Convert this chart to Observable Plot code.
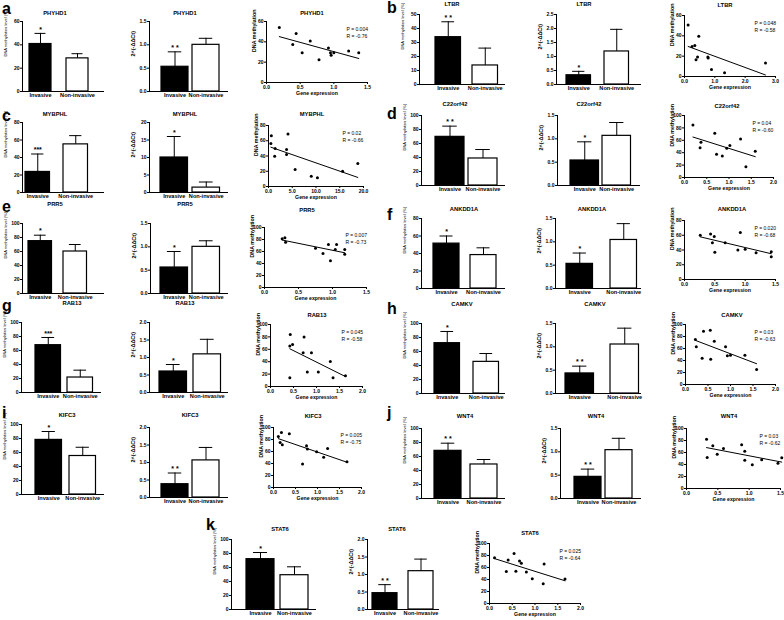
<!DOCTYPE html>
<html><head><meta charset="utf-8">
<script src="https://cdn.jsdelivr.net/npm/d3@7"></script>
<script src="https://cdn.jsdelivr.net/npm/@observablehq/plot@0.6"></script>
<style>
body{margin:0;background:#fff;}
#fig{position:relative;width:784px;height:620px;overflow:hidden;background:#fff;}
#fig svg{position:absolute;overflow:visible;}
</style></head><body><div id="fig"></div>
<script>
// ---------------- data ----------------
const genes = ["PHYHD1","LTBR","MYBPHL","C22orf42","PRR5","ANKDD1A","RAB13","CAMKV","KIFC3","WNT4","STAT6"];
const panelLetters = ["a","b","c","d","e","f","g","h","i","j","k"];
const groups = ["Invasive","Non-invasive"];

// DNA methylation level (%) bar charts: [Invasive, Non-invasive]
const methMean = [[40.7,28.4],[33.8,13.6],[23.5,55],[69.5,38.6],[74.8,60],[51.3,38.2],[67.6,21.4],[71.9,45.2],[78,55],[68.1,48.6],[71.9,49]];
const methErr  = [[49.8,32.4],[44.8,26],[44,65],[84.8,51.4],[83.3,70],[60,46.5],[78.6,31.9],[88.6,57.1],[90,67.5],[79,55.7],[81.4,61]];
const methStars = ["*","* *","***","* *","*","*","***","*","*","* *","*"];
const methMax  = [60,50,80,100,100,80,100,100,100,100,100];
const methStep = [20,10,20,20,20,20,20,20,20,20,20];

// 2^(-ΔΔCt) bar charts
const exprMean = [[0.53,1.0],[0.33,1.18],[10,1.4],[0.536,1.064],[0.557,1.0],[0.528,1.04],[0.6,1.09],[0.43,1.05],[0.38,1.06],[0.464,1.036],[0.467,1.095]];
const exprErr  = [[0.85,1.14],[0.47,1.97],[16,3.0],[0.936,1.35],[0.9,1.13],[0.76,1.39],[0.8,1.52],[0.586,1.4],[0.70,1.43],[0.63,1.29],[0.71,1.44]];
const exprStars = ["* *","*","*","*","*","*","*","* *","* *","* *","* *"];
const exprMax  = [1.5,2.5,20,1.5,1.5,1.5,2.0,1.5,2.0,1.5,2.0];
const exprStep = [0.5,0.5,5,0.5,0.5,0.5,0.5,0.5,0.5,0.5,0.5];

// scatter: gene expression vs DNA methylation
const scatX = [
  [0.19,0.44,0.39,0.53,0.65,0.78,0.92,0.95,0.96,1.0,1.22,1.37],
  [0.12,0.25,0.34,0.38,0.43,0.47,0.77,0.78,0.89,1.32,2.67],
  [0.6,0.5,1.4,1.3,4.1,3.8,3.8,5.6,9.0,10.3,15.6,18.8],
  [0.19,0.37,0.35,0.68,0.72,0.85,0.95,1.02,1.26,1.38,1.59],
  [0.26,0.30,0.31,0.75,0.86,0.94,0.97,1.06,1.04,1.18,1.18],
  [0.26,0.43,0.49,0.46,0.50,0.67,0.92,0.88,1.0,1.18,1.43,1.43],
  [0.43,0.42,0.48,0.73,0.71,0.89,0.80,1.04,1.30,0.42,1.36,1.63],
  [0.22,0.24,0.40,0.37,0.55,0.56,0.64,0.89,0.93,1.0,1.32,1.58],
  [0.11,0.15,0.18,0.2,0.36,0.75,0.77,0.66,0.98,1.14,1.23,1.67],
  [0.32,0.33,0.42,0.49,0.59,0.88,0.93,0.93,1.05,1.20,1.46,1.52],
  [0.11,0.41,0.37,0.54,0.58,0.66,0.70,0.81,0.94,1.2,1.18,1.66]
];
const scatY = [
  [54.1,48.1,37.3,29.3,40.9,22.4,34.0,29.3,26.7,29.3,31.0,29.3],
  [50.6,29.5,30.5,16.5,19.1,39.6,19.1,18.2,6.8,3.6,13.3],
  [66.4,56.4,49.8,39.8,68.9,48.5,42,22.3,13.6,11.4,20.1,30.2],
  [84.8,57,47.8,71.2,37.5,34.8,47,51.6,62,17.4,42.4],
  [81.1,82.8,75.6,65.6,56.7,71.7,44.4,71.7,63.3,63.3,55.6],
  [60,61.8,58.2,50,36.8,50,63.6,40,40.9,36.4,37.7,30.9],
  [83.8,65.4,67.6,80,54.6,54.6,23.2,23.2,40.5,14.1,14.1,17.3],
  [75,62.8,88.9,43.9,90.6,42.2,72.2,62.8,47.8,48.9,48.9,25],
  [85,75.1,91.7,71.3,89.5,69.6,64.1,39.2,59.7,50.3,65.2,43.1],
  [82.2,51.7,71.1,57.2,66.7,72.8,62.2,47.2,39.4,47.8,42.2,51.1],
  [76.4,72.5,53.3,83.5,53.8,70.9,67,52.7,41.2,65.9,33,40.7]
];
const scatXMax  = [1.5,3.0,20,2.0,1.5,1.5,2.0,2.0,2.0,1.5,2.0];
const scatXStep = [0.5,1.0,5,0.5,0.5,0.5,0.5,0.5,0.5,0.5,0.5];
const scatYMax  = [60,60,80,100,100,80,100,100,100,100,100];
const pValues = ["0.004","0.048","0.02","0.04","0.007","0.020","0.045","0.03","0.005","0.03","0.025"];
const rValues = ["-0.76","-0.58","-0.66","-0.60","-0.73","-0.68","-0.58","-0.63","-0.75","-0.62","-0.64"];

// ---------------- layout (plot-area boxes in page pixels) ----------------
// [left, right, top, bottom, invLeft, invRight, nonLeft, nonRight]
const bar1Box = [
 [22,103,21,91, 29,51,66,88],
 [419,504,14,84, 435,460,472,498],
 [22,103,122,192, 25,50,63,87],
 [421,504,115,185, 435,462,468,499],
 [22,103,223,293, 28,51,63,87],
 [421,504,218,288, 433,458,470,497],
 [21,100,322,392, 35,60,67,93],
 [421,504,323,393, 434,460,473,498],
 [21,103,424,494, 35,60,69,97],
 [421,504,428,498, 434,460,470,498],
 [231,315,539,609, 246,273,280,309]
];
const bar2Box = [
 [149,227,21,91, 161,185,192,222],
 [556,640,14,84, 566,590,604,629],
 [149,227,122,192, 160,185,192,222],
 [557,639,115,185, 570,596,602,633],
 [150,227,223,293, 160,185,192,222],
 [555,640,218,288, 566,596,610,633],
 [149,227,322,392, 159,185,193,222],
 [555,640,323,393, 565,596,610,636],
 [149,227,427,497, 161,185,192,222],
 [560,640,428,498, 574,598,605,635],
 [367,438,539,609, 372,397,408,433]
];
const scBox = [
 [266,367,21,82],[684,775,15,76],[268,363,125,186],[684,773,115,177],
 [264,366,227,287],[684,775,220,279],[270,362,324,386],[685,775,324,384],
 [273,361,427,487],[686,780,428,488],[489,580,543,603]
];
const titleX = [[55,185,312],[452,584,725],[55,185,312],[455,589,727],[55,185,307],[464,592,732],[72,185,317],[462,595,732],[67,190,313],[465,596,729],[280,397,530]];
const titleY = [[13,13,13],[4,4,5],[114,114,114],[104,104,106],[204,204,210],[209,209,209],[303,303,315],[304,304,315],[415,415,416],[416,416,416],[529,529,533]];
const letterPos = [[2,14],[387,13],[2,121],[387,119],[2,212],[387,220],[2,311],[387,314],[2,418],[387,418],[206,530]];

// ---------------- drawing ----------------
const FONT = "'Liberation Sans', Arial, Helvetica, sans-serif";
const fig = document.getElementById("fig");
function place(svg, left, top) {
  svg.style.left = left + "px";
  svg.style.top = top + "px";
  fig.appendChild(svg);
}
const tickVals = (max, step) => d3.range(0, max + step / 2, step);

function barChart(mean, err, stars, max, step, fmt, ylab, ylabSize, ylabWeight, ylabDx, box) {
  const [L, R, T, B, i1, i2, n1, n2] = box;
  const mL = 28, mR = 4, mT = 14, mB = 12;
  const bw = ((i2 - i1) + (n2 - n1)) / 2, st = n1 - i1;
  const pin = 1 - bw / st;
  const total = R - L;
  const pout = Math.max(0, (total / st - 2 + pin) / 2);
  const rest = total - st * (2 - pin + 2 * pout) + 2 * pout * st;
  const align = Math.max(0, Math.min(1, (i1 - L) / Math.max(1e-6, rest)));
  const data = groups.map((g, k) => ({g, v: mean[k], e: err[k], s: k === 0 ? stars : ""}));
  const svg = Plot.plot({
    width: total + mL + mR, height: (B - T) + mT + mB,
    marginLeft: mL, marginRight: mR, marginTop: mT, marginBottom: mB,
    style: {fontFamily: FONT, background: "transparent", overflow: "visible"},
    x: {domain: groups, paddingInner: pin, paddingOuter: pout, align, round: false},
    y: {domain: [0, max]},
    marks: [
      Plot.ruleX(data, {x: "g", y1: "v", y2: "e", stroke: "#000", strokeWidth: 1}),
      Plot.tickY(data, {x: "g", y: "e", stroke: "#000", strokeWidth: 1, inset: bw * 0.25}),
      Plot.barY(data, {x: "g", y: "v", fill: d => d.g === groups[0] ? "#000" : "#fff", stroke: "#000", strokeWidth: 1.2}),
      Plot.text(data, {x: "g", y: "e", text: "s", dy: -4, fontSize: 7, fontWeight: "bold"}),
      Plot.frame({anchor: "left", stroke: "#000"}),
      Plot.frame({anchor: "bottom", stroke: "#000"}),
      Plot.axisY(tickVals(max, step), {tickSize: 2, tickPadding: 1, fontSize: 5, fontWeight: "bold", label: null, tickFormat: fmt}),
      Plot.axisX({tickSize: 0, tickPadding: 2, fontSize: 5.6, fontWeight: "bold", label: null}),
      Plot.text([ylab], {text: d => d, frameAnchor: "left", rotate: -90, dx: ylabDx, fontSize: ylabSize, fontWeight: ylabWeight})
    ]
  });
  place(svg, L - mL, T - mT);
}

function scatterChart(xs, ys, xmax, xstep, ymax, p, r, box) {
  const [L, R, T, B] = box;
  const mL = 24, mR = 8, mT = 4, mB = 18;
  const pts = xs.map((x, k) => ({x, y: ys[k]}));
  const svg = Plot.plot({
    width: (R - L) + mL + mR, height: (B - T) + mT + mB,
    marginLeft: mL, marginRight: mR, marginTop: mT, marginBottom: mB,
    style: {fontFamily: FONT, background: "transparent", overflow: "visible"},
    x: {domain: [0, xmax]},
    y: {domain: [0, ymax]},
    marks: [
      Plot.frame({anchor: "left", stroke: "#000"}),
      Plot.frame({anchor: "bottom", stroke: "#000"}),
      Plot.axisY(tickVals(ymax, 20), {tickSize: 2, tickPadding: 1, fontSize: 5, fontWeight: "bold", label: null, tickFormat: d3.format("d")}),
      Plot.axisX(tickVals(xmax, xstep), {tickSize: 2, tickPadding: 1, fontSize: 5, fontWeight: "bold", label: null, tickFormat: d3.format(".1f")}),
      Plot.linearRegressionY(pts, {x: "x", y: "y", ci: 0, stroke: "#000", strokeWidth: 1}),
      Plot.dot(pts, {x: "x", y: "y", r: 1.5, fill: "#000", stroke: null}),
      Plot.text([`P = ${p}`], {text: d => d, frameAnchor: "top-right", textAnchor: "start", dx: -21, dy: 6, fontSize: 5}),
      Plot.text([`R = ${r}`], {text: d => d, frameAnchor: "top-right", textAnchor: "start", dx: -21, dy: 12.5, fontSize: 5}),
      Plot.text(["DNA methylation"], {text: d => d, frameAnchor: "left", rotate: -90, dx: -12, fontSize: 5.3, fontWeight: "bold"}),
      Plot.text(["Gene expression"], {text: d => d, frameAnchor: "bottom", dy: 12, fontSize: 5.2, fontWeight: "bold"})
    ]
  });
  place(svg, L - mL, T - mT);
}

genes.forEach((gene, i) => {
  barChart(methMean[i], methErr[i], methStars[i], methMax[i], methStep[i], d3.format("d"),
           "DNA methylation level (%)", 4, "normal", -17, bar1Box[i]);
  barChart(exprMean[i], exprErr[i], exprStars[i], exprMax[i], exprStep[i],
           exprStep[i] >= 1 ? d3.format("d") : d3.format(".1f"),
           "2^(-ΔΔCt)", 5.5, "bold", -16, bar2Box[i]);
  scatterChart(scatX[i], scatY[i], scatXMax[i], scatXStep[i], scatYMax[i], pValues[i], rValues[i], scBox[i]);
});

// titles and panel letters
const overlay = d3.create("svg").attr("width", 784).attr("height", 620)
  .style("left", "0px").style("top", "0px").style("font-family", FONT);
genes.forEach((gene, i) => {
  for (let k = 0; k < 3; k++) {
    overlay.append("text").attr("x", titleX[i][k]).attr("y", titleY[i][k] + 2)
      .attr("text-anchor", "middle").attr("font-size", 5.8).attr("font-weight", "bold").text(gene);
  }
  overlay.append("text").attr("x", letterPos[i][0]).attr("y", letterPos[i][1])
    .attr("font-size", 16).attr("font-weight", "bold").text(panelLetters[i]);
});
fig.appendChild(overlay.node());
</script>
</body></html>
